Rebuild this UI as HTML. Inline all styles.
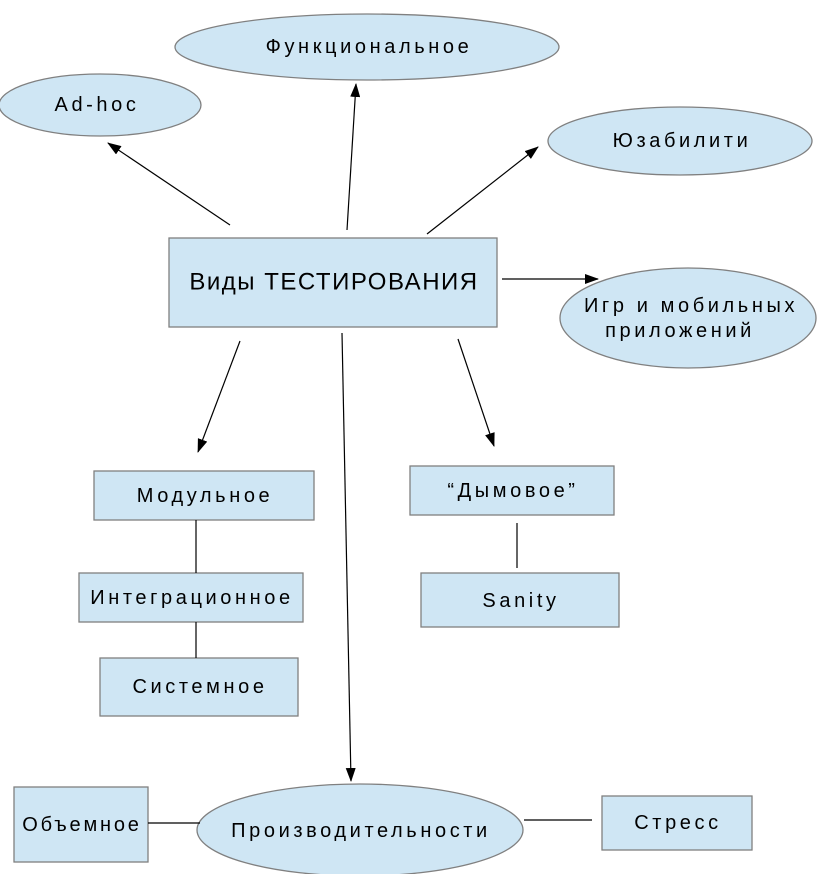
<!DOCTYPE html>
<html><head><meta charset="utf-8"><style>
html,body{margin:0;padding:0;background:#fff;}
text{font-family:"Liberation Sans",sans-serif;font-size:20px;fill:#000;letter-spacing:3.6px;text-anchor:middle;dominant-baseline:central;}
.s{fill:#cfe6f4;stroke:#808080;stroke-width:1.3;}
.l{stroke:#000;stroke-width:1.2;fill:none;}
</style></head><body>
<svg width="819" height="874" viewBox="0 0 819 874" xmlns="http://www.w3.org/2000/svg">
<defs><marker id="a" markerWidth="14" markerHeight="10" refX="13" refY="5" orient="auto" markerUnits="userSpaceOnUse"><path d="M0,0 L14,5 L0,10 z" fill="#000"/></marker></defs>
<ellipse class="s" cx="367" cy="47" rx="192" ry="33"/>
<text x="369" y="47">Функциональное</text>
<ellipse class="s" cx="100" cy="105" rx="101" ry="31"/>
<text x="97" y="105">Ad-hoc</text>
<ellipse class="s" cx="680" cy="141" rx="132" ry="34"/>
<text x="682" y="141">Юзабилити</text>
<rect class="s" x="169" y="238" width="328" height="89"/>
<text x="334" y="282" style="letter-spacing:1.5px;font-size:24px">Виды ТЕСТИРОВАНИЯ</text>
<ellipse class="s" cx="688" cy="318" rx="128" ry="50"/>
<text x="691" y="306">Игр и мобильных</text>
<text x="680" y="331">приложений</text>
<rect class="s" x="94" y="471" width="220" height="49"/>
<text x="205" y="496">Модульное</text>
<rect class="s" x="79" y="573" width="224" height="49"/>
<text x="192" y="598">Интеграционное</text>
<rect class="s" x="100" y="658" width="198" height="58"/>
<text x="200" y="687">Системное</text>
<rect class="s" x="410" y="466" width="204" height="49"/>
<text x="513" y="491">“Дымовое”</text>
<rect class="s" x="421" y="573" width="198" height="54"/>
<text x="521" y="601">Sanity</text>
<ellipse class="s" cx="360" cy="830" rx="163" ry="46"/>
<text x="361" y="831">Производительности</text>
<rect class="s" x="14" y="787" width="134" height="75"/>
<text x="82" y="825" style="letter-spacing:2.8px">Объемное</text>
<rect class="s" x="602" y="796" width="150" height="54"/>
<text x="678" y="823">Стресс</text>
<line class="l" x1="230" y1="225" x2="108" y2="143" marker-end="url(#a)"/>
<line class="l" x1="347" y1="230" x2="356" y2="84" marker-end="url(#a)"/>
<line class="l" x1="427" y1="234" x2="538" y2="147" marker-end="url(#a)"/>
<line class="l" x1="502" y1="279" x2="598" y2="279" marker-end="url(#a)"/>
<line class="l" x1="240" y1="341" x2="198" y2="452" marker-end="url(#a)"/>
<line class="l" x1="342" y1="333" x2="351" y2="781" marker-end="url(#a)"/>
<line class="l" x1="458" y1="339" x2="494" y2="446" marker-end="url(#a)"/>
<line class="l" x1="196" y1="520" x2="196" y2="573"/>
<line class="l" x1="196" y1="622" x2="196" y2="658"/>
<line class="l" x1="517" y1="523" x2="517" y2="568"/>
<line class="l" x1="148" y1="823" x2="200" y2="823"/>
<line class="l" x1="524" y1="820" x2="592" y2="820"/>
</svg>
</body></html>
